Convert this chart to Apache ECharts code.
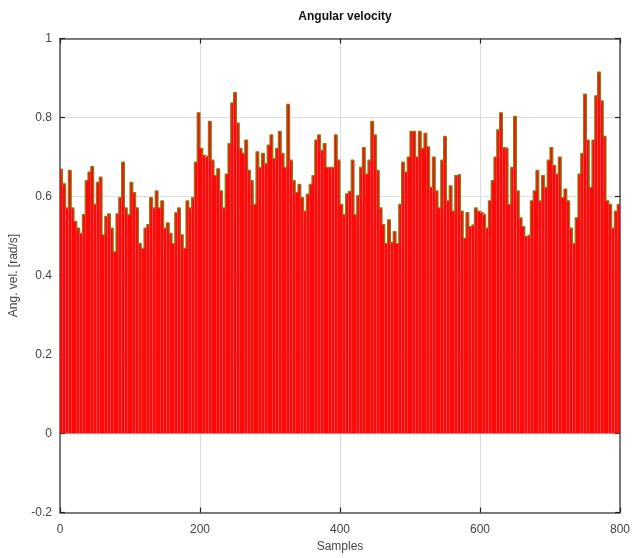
<!DOCTYPE html>
<html>
<head>
<meta charset="utf-8">
<title>Angular velocity</title>
<script src="https://cdn.jsdelivr.net/npm/echarts@6/dist/echarts.min.js"></script>
<style>
  html, body { margin: 0; padding: 0; background: #fff; }
  #chart { width: 633px; height: 558px; }
</style>
</head>
<body>
<div id="chart"></div>
<script>
// Angular velocity magnitude [rad/s], one value per block of samples
const sampleStep = 4;
const angVel = [
  0.670, 0.632, 0.571, 0.666, 0.571, 0.537, 0.520, 0.507, 0.554, 0.640,
  0.662, 0.676, 0.580, 0.636, 0.649, 0.503, 0.550, 0.556, 0.520, 0.460,
  0.556, 0.597, 0.687, 0.571, 0.554, 0.636, 0.610, 0.571, 0.481, 0.469,
  0.520, 0.529, 0.597, 0.571, 0.614, 0.571, 0.589, 0.520, 0.533, 0.507,
  0.481, 0.559, 0.571, 0.503, 0.469, 0.589, 0.571, 0.597, 0.687, 0.812,
  0.722, 0.704, 0.700, 0.790, 0.692, 0.653, 0.670, 0.614, 0.571, 0.657,
  0.734, 0.837, 0.863, 0.786, 0.722, 0.709, 0.743, 0.666, 0.640, 0.580,
  0.713, 0.674, 0.709, 0.683, 0.730, 0.756, 0.696, 0.722, 0.765, 0.709,
  0.674, 0.833, 0.692, 0.640, 0.610, 0.631, 0.597, 0.563, 0.606, 0.631,
  0.653, 0.743, 0.756, 0.717, 0.734, 0.674, 0.674, 0.674, 0.756, 0.692,
  0.580, 0.554, 0.607, 0.613, 0.692, 0.554, 0.602, 0.674, 0.724, 0.657,
  0.692, 0.790, 0.756, 0.666, 0.571, 0.529, 0.481, 0.541, 0.484, 0.511,
  0.481, 0.580, 0.687, 0.662, 0.700, 0.765, 0.765, 0.700, 0.765, 0.722,
  0.760, 0.726, 0.623, 0.700, 0.614, 0.571, 0.692, 0.752, 0.589, 0.627,
  0.563, 0.653, 0.656, 0.563, 0.494, 0.559, 0.524, 0.529, 0.571, 0.563,
  0.559, 0.554, 0.520, 0.589, 0.640, 0.700, 0.769, 0.812, 0.724, 0.722,
  0.580, 0.674, 0.803, 0.614, 0.546, 0.524, 0.499, 0.503, 0.589, 0.614,
  0.666, 0.589, 0.653, 0.623, 0.692, 0.724, 0.679, 0.657, 0.700, 0.597,
  0.619, 0.589, 0.520, 0.481, 0.546, 0.657, 0.709, 0.859, 0.743, 0.623,
  0.743, 0.855, 0.915, 0.842, 0.752, 0.589, 0.580, 0.520, 0.563, 0.580
];

// Axis ranges and tick spacing
const xRange = [0, 800];
const xTickStep = 200;
const yRange = [-0.2, 1];
const yTickStep = 0.2;

const titleText = 'Angular velocity';
const xName = 'Samples';
const yName = 'Ang. vel. [rad/s]';

// Each value is placed at the middle of its sample block
const points = angVel.map((v, i) => [i * sampleStep + sampleStep / 2, v]);

const labelFont = { fontFamily: 'Liberation Sans, Arial, sans-serif', fontSize: 12, color: '#444' };
const frameColor = '#555';
const fmtY = v => String(+v.toFixed(1));

const chart = echarts.init(document.getElementById('chart'), null, { renderer: 'canvas' });
chart.setOption({
  animation: false,
  backgroundColor: '#fff',
  title: {
    text: titleText,
    left: 340,
    textAlign: 'center',
    top: 6,
    textStyle: { fontFamily: 'Liberation Sans, Arial, sans-serif', fontSize: 12, fontWeight: 'bold', color: '#111' }
  },
  grid: { left: 58, right: 11, top: 38.5, bottom: 45.5, containLabel: false },
  xAxis: [
    {
      type: 'value', min: xRange[0], max: xRange[1], interval: xTickStep,
      position: 'bottom',
      name: xName, nameLocation: 'middle', nameGap: 28,
      nameTextStyle: labelFont,
      axisLine: { show: true, onZero: false, lineStyle: { color: frameColor, width: 1.5 } },
      axisTick: { show: true, inside: true, length: 5, lineStyle: { color: '#222', width: 1.2 } },
      axisLabel: Object.assign({ margin: 11 }, labelFont),
      splitLine: { show: true, lineStyle: { color: '#dcdcdc', width: 1 } }
    },
    {
      type: 'value', min: xRange[0], max: xRange[1], interval: xTickStep,
      position: 'top',
      axisLine: { show: true, onZero: false, lineStyle: { color: frameColor, width: 1.5 } },
      axisTick: { show: true, inside: true, length: 5, lineStyle: { color: '#222', width: 1.2 } },
      axisLabel: { show: false },
      splitLine: { show: false }
    }
  ],
  yAxis: [
    {
      type: 'value', min: yRange[0], max: yRange[1], interval: yTickStep,
      position: 'left',
      name: yName, nameLocation: 'middle', nameGap: 40,
      nameTextStyle: labelFont,
      axisLine: { show: true, onZero: false, lineStyle: { color: frameColor, width: 1.5 } },
      axisTick: { show: true, inside: true, length: 5, lineStyle: { color: '#222', width: 1.2 } },
      axisLabel: Object.assign({ margin: 8, formatter: fmtY }, labelFont),
      splitLine: { show: true, lineStyle: { color: '#dcdcdc', width: 1 } }
    },
    {
      type: 'value', min: yRange[0], max: yRange[1], interval: yTickStep,
      position: 'right',
      axisLine: { show: true, onZero: false, lineStyle: { color: frameColor, width: 1.5 } },
      axisTick: { show: true, inside: true, length: 5, lineStyle: { color: '#222', width: 1.2 } },
      axisLabel: { show: false },
      splitLine: { show: false }
    }
  ],
  series: [
    {
      type: 'bar',
      xAxisIndex: 0, yAxisIndex: 0,
      data: points,
      barCategoryGap: '0%',
      itemStyle: { color: '#fb0a0a', borderWidth: 0 },
      z: 2
    },
    {
      // outline along the tops of the bars
      type: 'line',
      xAxisIndex: 0, yAxisIndex: 0,
      data: points,
      step: 'middle',
      showSymbol: false,
      lineStyle: { color: '#8f7a14', width: 1.2 },
      z: 3
    }
  ]
});
</script>
</body>
</html>
